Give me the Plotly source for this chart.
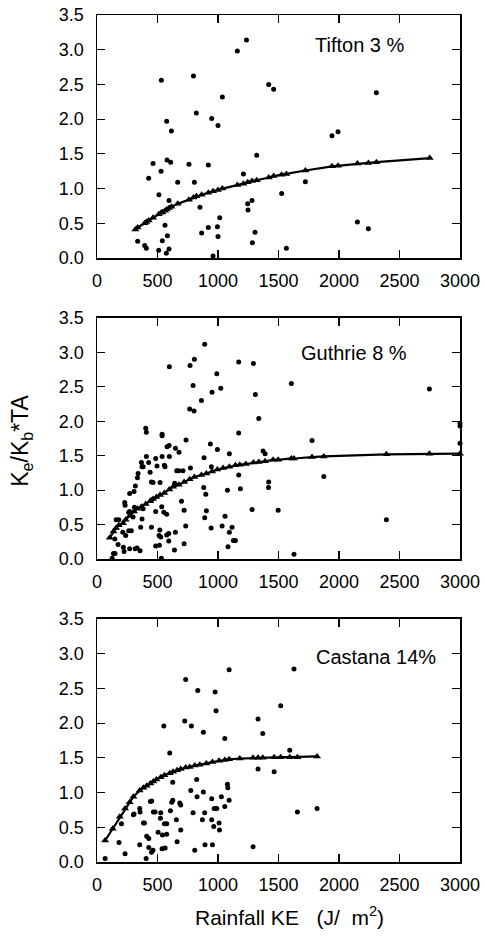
import plotly.graph_objects as go

# ---------------- data ----------------
x_ticks = [0, 500, 1000, 1500, 2000, 2500, 3000]
y_ticks = [0.0, 0.5, 1.0, 1.5, 2.0, 2.5, 3.0, 3.5]
site_labels = ["Tifton 3 %", "Guthrie 8 %", "Castana 14%"]

# Tifton observed
tif_obs_x = [1235, 1160, 532, 797, 1419, 1460, 1036, 821, 948, 1000, 576, 615, 1320, 463, 579, 609,
             760, 920, 529, 427, 667, 805, 1210, 512, 595, 1526, 851, 1245, 1281, 1248, 1014, 562,
             920, 995, 865, 1306, 336, 540, 582, 1000, 1284, 394, 408, 510, 595, 573, 959, 1565,
             2309, 1942, 1992, 1722, 2152, 2243]
tif_obs_y = [3.14, 2.98, 2.56, 2.62, 2.50, 2.43, 2.32, 2.09, 2.01, 1.91, 1.97, 1.83, 1.48, 1.36, 1.41, 1.38,
             1.35, 1.34, 1.25, 1.15, 1.09, 1.09, 1.21, 0.91, 0.83, 0.93, 0.73, 0.78, 0.83, 0.69, 0.58, 0.47,
             0.44, 0.45, 0.36, 0.37, 0.24, 0.25, 0.32, 0.31, 0.22, 0.18, 0.14, 0.11, 0.13, 0.07, 0.03, 0.14,
             2.38, 1.76, 1.82, 1.10, 0.52, 0.42]
# Tifton predicted
tif_pred_x = [317, 336, 394, 408, 427, 463, 510, 529, 540, 562, 576, 595, 615, 667, 760, 797, 821, 865,
              920, 959, 1000, 1036, 1160, 1210, 1245, 1281, 1320, 1419, 1460, 1526, 1565, 1722, 1942,
              1992, 2152, 2243, 2309, 2750]
tif_pred_y = [0.41, 0.44, 0.50, 0.52, 0.54, 0.58, 0.63, 0.65, 0.66, 0.68, 0.70, 0.72, 0.74, 0.78, 0.84,
              0.87, 0.89, 0.91, 0.94, 0.96, 0.98, 1.00, 1.05, 1.07, 1.09, 1.11, 1.12, 1.16, 1.18, 1.20,
              1.21, 1.26, 1.32, 1.33, 1.36, 1.37, 1.38, 1.44]

# Guthrie observed
gut_obs_x = [890, 598, 769, 805, 1171, 1293, 990, 794, 1023, 951, 1309, 863, 766, 802, 1337, 403, 408,
             1171, 538, 538, 596, 579, 736, 648, 678, 937, 995, 1094, 1373, 1389, 408, 367, 372, 427,
             485, 496, 538, 598, 439, 450, 463, 557, 562, 659, 676, 772, 885, 521, 334, 317, 270, 306,
             229, 232, 180, 158, 262, 882, 899, 1078, 1171, 1185, 1282, 1419, 1417, 1497, 270, 309,
             381, 452, 698, 720, 485, 535, 552, 576, 450, 372, 361, 298, 284, 237, 262, 213, 147, 174,
             218, 270, 315, 356, 331, 224, 136, 149, 125, 485, 516, 513, 519, 527, 576, 593, 593, 648,
             640, 532, 720, 733, 890, 904, 943, 1034, 1058, 1094, 1116, 1127, 1144, 1083, 642, 711,
             945, 340, 381, 1606, 2747, 1777, 3000, 3000, 3000, 1874, 2392, 1628]
gut_obs_y = [3.12, 2.79, 2.81, 2.90, 2.86, 2.84, 2.69, 2.52, 2.48, 2.42, 2.39, 2.30, 2.18, 2.15, 2.04, 1.90,
             1.84, 1.83, 1.81, 1.79, 1.65, 1.63, 1.73, 1.61, 1.55, 1.67, 1.59, 1.53, 1.57, 1.53, 1.49,
             1.40, 1.34, 1.40, 1.46, 1.35, 1.49, 1.49, 1.26, 1.12, 1.11, 1.36, 1.34, 1.28, 1.28, 1.32,
             1.47, 1.11, 1.18, 1.06, 0.95, 0.98, 0.82, 0.78, 0.57, 0.57, 0.68, 1.04, 0.94, 1.00, 1.22,
             1.02, 0.72, 1.12, 1.04, 0.71, 0.69, 0.75, 0.73, 0.86, 0.84, 0.71, 0.69, 0.76, 0.68, 0.65,
             0.46, 0.58, 0.46, 0.61, 0.41, 0.34, 0.41, 0.39, 0.29, 0.21, 0.17, 0.15, 0.15, 0.12, 0.16,
             0.11, 0.08, 0.08, 0.01, 0.19, 0.20, 0.34, 0.42, 0.32, 0.35, 0.26, 0.37, 0.39, 0.13, 0.01,
             0.22, 0.48, 0.60, 0.70, 0.45, 0.48, 0.62, 0.39, 0.46, 0.27, 0.27, 0.18, 1.10, 1.28, 1.34,
             1.24, 1.34, 2.55, 2.47, 1.72, 1.97, 1.93, 1.68, 1.20, 0.57, 0.07]
# Guthrie predicted
gut_pred_x = [105, 136, 158, 180, 215, 237, 270, 306, 334, 367, 403, 439, 463, 491, 521, 557, 598, 629,
              676, 720, 766, 805, 863, 904, 951, 995, 1042, 1094, 1144, 1180, 1230, 1293, 1337, 1389,
              1455, 1497, 1606, 1628, 1777, 1874, 2392, 2747, 3000]
gut_pred_y = [0.31, 0.40, 0.45, 0.49, 0.52, 0.57, 0.63, 0.69, 0.73, 0.76, 0.80, 0.84, 0.87, 0.90, 0.93,
              0.96, 1.01, 1.05, 1.08, 1.12, 1.16, 1.19, 1.22, 1.24, 1.27, 1.30, 1.32, 1.34, 1.36, 1.37,
              1.38, 1.40, 1.41, 1.42, 1.44, 1.44, 1.46, 1.46, 1.48, 1.49, 1.52, 1.53, 1.53]

# Castana observed
cas_obs_x = [1092, 733, 833, 976, 984, 725, 552, 780, 879, 1056, 601, 775, 824, 626, 1078, 1081, 827,
             879, 948, 1028, 1092, 441, 452, 626, 618, 684, 692, 794, 890, 968, 990, 1056, 301, 353,
             356, 466, 480, 527, 524, 607, 576, 656, 871, 948, 1009, 965, 1012, 384, 392, 692, 202,
             557, 505, 541, 576, 411, 428, 662, 353, 463, 428, 450, 538, 563, 182, 232, 808, 893, 954,
             1290, 406, 67, 306, 1331, 1370, 1518, 1331, 1464, 1593, 1628, 1656, 1819]
cas_obs_y = [2.77, 2.63, 2.47, 2.45, 2.18, 2.03, 1.96, 1.96, 1.87, 1.78, 1.57, 1.03, 1.19, 1.15, 1.12,
             1.07, 0.94, 1.01, 0.91, 0.94, 0.89, 0.87, 0.88, 0.89, 0.86, 0.85, 0.82, 0.71, 0.71, 0.77,
             0.77, 0.80, 0.68, 0.77, 0.72, 0.72, 0.72, 0.71, 0.63, 0.74, 0.55, 0.61, 0.61, 0.61, 0.56,
             0.51, 0.46, 0.56, 0.56, 0.46, 0.55, 0.55, 0.43, 0.39, 0.40, 0.37, 0.34, 0.29, 0.25, 0.17,
             0.21, 0.14, 0.19, 0.20, 0.28, 0.12, 0.17, 0.25, 0.25, 0.22, 0.05, 0.05, 0.69, 2.06, 1.85,
             2.25, 1.34, 1.30, 1.61, 2.78, 0.72, 0.77]
# Castana predicted
cas_pred_x = [67, 130, 188, 232, 270, 301, 353, 384, 411, 441, 466, 491, 527, 557, 601, 629, 662, 692,
              733, 766, 808, 850, 904, 954, 1009, 1056, 1092, 1180, 1290, 1331, 1370, 1464, 1518,
              1593, 1656, 1819]
cas_pred_y = [0.31, 0.48, 0.65, 0.77, 0.86, 0.94, 1.03, 1.07, 1.10, 1.13, 1.16, 1.19, 1.22, 1.25, 1.28,
              1.30, 1.32, 1.34, 1.36, 1.37, 1.39, 1.40, 1.42, 1.44, 1.46, 1.47, 1.48, 1.49, 1.50, 1.50,
              1.50, 1.51, 1.51, 1.51, 1.51, 1.52]

# ---------------- figure ----------------
W, H = 485, 936
FONT = "Liberation Sans, Arial, sans-serif"
fig = go.Figure()

panels = [
    (tif_obs_x, tif_obs_y, tif_pred_x, tif_pred_y, "x", "y"),
    (gut_obs_x, gut_obs_y, gut_pred_x, gut_pred_y, "x2", "y2"),
    (cas_obs_x, cas_obs_y, cas_pred_x, cas_pred_y, "x3", "y3"),
]
for ox, oy, px, py, xa, ya in panels:
    fig.add_trace(go.Scatter(x=ox, y=oy, mode="markers", xaxis=xa, yaxis=ya,
                             marker=dict(color="black", size=5), showlegend=False,
                             cliponaxis=False))
    fig.add_trace(go.Scatter(x=px, y=py, mode="lines+markers", xaxis=xa, yaxis=ya,
                             line=dict(color="black", width=2.2),
                             marker=dict(color="black", size=7, symbol="triangle-up"),
                             showlegend=False, cliponaxis=False))

domains = [[0.7131, 1.0], [0.3577, 0.6423], [0.0, 0.2869]]
axis_common = dict(showline=True, mirror="allticks", linecolor="black", linewidth=1.5,
                   ticks="inside", ticklen=8, tickwidth=1.2, tickcolor="black",
                   showgrid=False, zeroline=False,
                   tickfont=dict(family=FONT, size=18, color="black"))
for i, dom in enumerate(domains):
    sfx = "" if i == 0 else str(i + 1)
    fig.layout["xaxis" + sfx] = dict(axis_common, domain=[0, 1], range=[0, 3000],
                                     tickvals=x_ticks, anchor="y" + sfx,
                                     ticklabelstandoff=6)
    fig.layout["yaxis" + sfx] = dict(axis_common, domain=dom, range=[0, 3.5],
                                     tickvals=y_ticks, tickformat=".1f", anchor="x" + sfx,
                                     ticklabelstandoff=8)

label_pos = [(2171, 3.07), (2128, 2.99), (2303, 2.95)]
for i, (lbl, (lx, ly)) in enumerate(zip(site_labels, label_pos)):
    sfx = "" if i == 0 else str(i + 1)
    fig.add_annotation(x=lx, y=ly, xref="x" + sfx, yref="y" + sfx, text=lbl,
                       showarrow=False, font=dict(family=FONT, size=20, color="black"))

fig.add_annotation(x=-0.21, y=0.497, xref="paper", yref="paper", xanchor="center",
                   yanchor="middle",
                   text="K<sub>e</sub>/K<sub>b</sub>*TA", textangle=-90, showarrow=False,
                   font=dict(family=FONT, size=23, color="black"))
fig.add_annotation(x=0.53, y=-0.064, xref="paper", yref="paper", xanchor="center",
                   yanchor="middle",
                   text="Rainfall KE\u00a0\u00a0\u00a0(J/\u00a0\u00a0m<sup>2</sup>)", showarrow=False,
                   font=dict(family=FONT, size=21, color="black"))

fig.update_layout(width=W, height=H, plot_bgcolor="white", paper_bgcolor="white",
                  margin=dict(l=97, r=25, t=15, b=74, autoexpand=False),
                  font=dict(family=FONT, color="black"))
fig.write_html("out.html", config={"displayModeBar": False, "staticPlot": True},
               post_script="document.body.style.margin='0px';"
                           "document.body.style.overflow='hidden';")
